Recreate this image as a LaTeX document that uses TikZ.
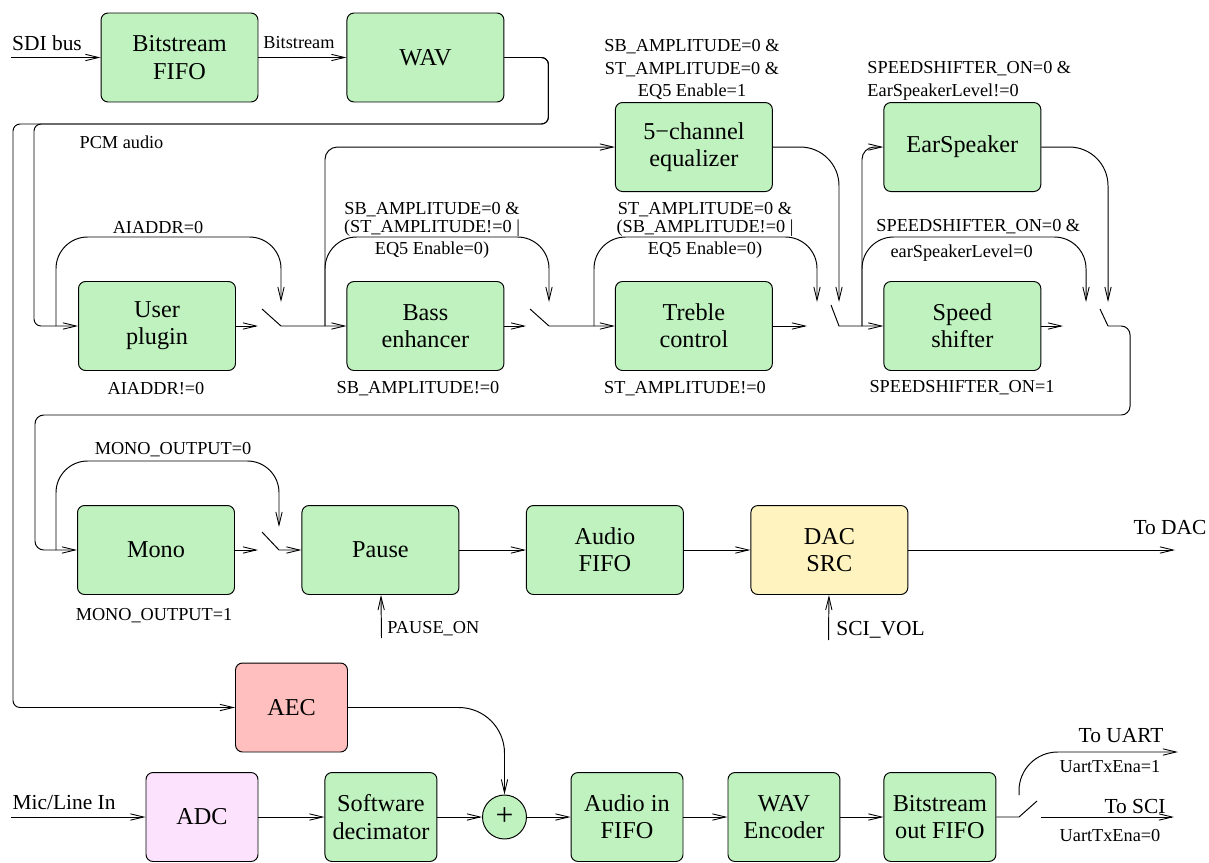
\documentclass[tikz,border=0pt]{standalone}
\usepackage{fontspec}
\setmainfont{Liberation Serif}
\usetikzlibrary{arrows.meta, shapes}

\definecolor{boxgreen}{HTML}{BFF2BF}
\definecolor{dacyellow}{HTML}{FFF4BF}
\definecolor{aecred}{HTML}{FFBFBF}
\definecolor{adcpink}{HTML}{FDE2FD}

\newcommand{\blkfont}{\fontsize{13.8}{15.5}\selectfont}
\newcommand{\cndfont}{\fontsize{10.4}{12.7}\selectfont}
\newcommand{\sqzfont}{\fontsize{10.4}{10.2}\selectfont}
\newcommand{\iofont}{\fontsize{12.2}{14}\selectfont}

\tikzset{
    blk/.style={draw, rounded corners=4pt, fill=boxgreen, minimum width=3.14cm, minimum height=1.78cm, inner sep=1pt, align=center, font=\blkfont},
    nblk/.style={blk, minimum width=2.24cm},
    cnd/.style={font=\cndfont, align=center, inner sep=0pt},
    iolbl/.style={font=\iofont, inner sep=0pt}
}

\begin{document}
\begin{tikzpicture}[x=0.02cm, y=-0.02cm, line width=0.55pt, >={Straight Barb[length=7.5pt,width=3.6pt,line width=0.5pt]}]
            \useasboundingbox (0,0) rectangle (1209,862);

            \node (bfifo) [blk] at (179.5,57.5) {Bitstream\\FIFO};
            \node (wav) [blk, node distance=4.92cm, right of=bfifo] {WAV};
            \node (plugin) [blk] at (157,326) {User\\plugin};
            \node (bass) [blk, node distance=5.37cm, right of=plugin] {Bass\\enhancer};
            \node (treble) [blk, node distance=5.37cm, right of=bass] {Treble\\control};
            \node (speed) [blk, node distance=5.37cm, right of=treble] {Speed\\shifter};
            \node (eq) [blk, node distance=3.58cm, above of=treble] {5−channel\\equalizer};
            \node (ear) [blk, node distance=3.58cm, above of=speed] {EarSpeaker};
            \node (mono) [blk] at (156,550) {Mono};
            \node (pause) [blk, node distance=4.49cm, right of=mono] {Pause};
            \node (afifo) [blk, node distance=4.49cm, right of=pause] {Audio\\FIFO};
            \node (dac) [blk, fill=dacyellow, node distance=4.49cm, right of=afifo] {DAC\\SRC};
            \node (aec) [nblk, fill=aecred] at (291.5,707.5) {AEC};
            \node (adc) [nblk, fill=adcpink] at (202,817) {ADC};
            \node (dec) [nblk, node distance=3.58cm, right of=adc] {Software\\decimator};
            \node (sum) [circle, draw, fill=boxgreen, minimum size=0.88cm, inner sep=0pt, font=\fontsize{18}{18}\selectfont] at (504.5,817) {+};
            \node (infifo) [nblk] at (627,817) {Audio in\\FIFO};
            \node (wavenc) [nblk, node distance=3.14cm, right of=infifo] {WAV\\Encoder};
            \node (bofifo) [nblk, node distance=3.12cm, right of=wavenc] {Bitstream\\out FIFO};

            \node (sdilbl) [iolbl] at (47,43) {SDI bus};
            \node (bslbl) [cnd] at (299,43) {Bitstream};
            \node (pcmlbl) [cnd] at (121.5,142) {PCM audio};
            \node (eqcnd) [cnd] at (692,69.5) {SB\_AMPLITUDE=0 \&\\ST\_AMPLITUDE=0 \&\\EQ5 Enable=1};
            \node (earcnd) [cnd, align=left, anchor=west] at (867,81) {SPEEDSHIFTER\_ON=0 \&\\EarSpeakerLevel!=0};
            \node (aicnd) [cnd] at (158,228) {AIADDR=0};
            \node (sbcnd) [cnd, font=\sqzfont] at (432,230) {SB\_AMPLITUDE=0 \&\\(ST\_AMPLITUDE!=0 |\\[2.3pt]EQ5 Enable=0)};
            \node (stcnd) [cnd, font=\sqzfont] at (705,230) {ST\_AMPLITUDE=0 \&\\(SB\_AMPLITUDE!=0 |\\[2.3pt]EQ5 Enable=0)};
            \node (spcnd) [cnd, align=left, anchor=west] at (876,240) {SPEEDSHIFTER\_ON=0 \&\\[2pt]\hspace{8pt}earSpeakerLevel=0};
            \node (aineg) [cnd] at (156,389) {AIADDR!=0};
            \node (sbneg) [cnd] at (418,389) {SB\_AMPLITUDE!=0};
            \node (stneg) [cnd] at (685,389) {ST\_AMPLITUDE!=0};
            \node (spneg) [cnd] at (962,388) {SPEEDSHIFTER\_ON=1};
            \node (monocnd) [cnd] at (173,450) {MONO\_OUTPUT=0};
            \node (mononeg) [cnd] at (154,616) {MONO\_OUTPUT=1};
            \node (pauselbl) [cnd, anchor=west] at (387,629) {PAUSE\_ON};
            \node (scilbl) [iolbl, anchor=west] at (836,630) {SCI\_VOL};
            \node (todaclbl) [iolbl] at (1170,527) {To DAC};
            \node (miclbl) [iolbl] at (64,802) {Mic/Line In};
            \node (uartlbl) [iolbl] at (1121,736) {To UART};
            \node (uart1) [cnd] at (1110,767) {UartTxEna=1};
            \node (scilbl2) [iolbl] at (1135,806) {To SCI};
            \node (uart0) [cnd] at (1110,835) {UartTxEna=0};

            \coordinate (sdi) at (11,57.5);
            \coordinate (j1) at (56,326);
            \coordinate (sw1in) at (258,326);
            \coordinate (sw1a) at (262,309);
            \coordinate (sw1b) at (281,326);
            \coordinate (sw1top) at (281,302);
            \coordinate (j2) at (325,326);
            \coordinate (sw2in) at (526,326);
            \coordinate (sw2a) at (530,309);
            \coordinate (sw2b) at (549,326);
            \coordinate (sw2top) at (549,302);
            \coordinate (j3) at (594,326);
            \coordinate (sw3in) at (807,326);
            \coordinate (sw3a) at (831,305);
            \coordinate (sw3b) at (839,326);
            \coordinate (sw3top) at (839,302);
            \coordinate (sw3alt) at (817,302);
            \coordinate (j4) at (862,326);
            \coordinate (sw4in) at (1063,326);
            \coordinate (sw4a) at (1100,309);
            \coordinate (sw4b) at (1108,326);
            \coordinate (sw4top) at (1108,302);
            \coordinate (sw4alt) at (1086,302);
            \coordinate (j5) at (56,550);
            \coordinate (sw5in) at (258,550);
            \coordinate (sw5a) at (262,532);
            \coordinate (sw5b) at (279,550);
            \coordinate (sw5top) at (279,527);
            \coordinate (todac) at (1175,550);
            \coordinate (pauseon) at (381.5,638);
            \coordinate (scivol) at (828.5,640);
            \coordinate (mic) at (11,817);
            \coordinate (sw6a) at (1037,801);
            \coordinate (sw6b) at (1019,817);
            \coordinate (uartst) at (1019,795);
            \coordinate (touart) at (1178,752);
            \coordinate (scist) at (1041,817);
            \coordinate (tosci) at (1174,817);

            \path[->]
                (sdi) edge (bfifo)
                (bfifo) edge (wav)
                (plugin) edge (sw1in)
                (bass) edge (sw2in)
                (treble) edge (sw3in)
                (speed) edge (sw4in)
                (mono) edge (sw5in)
                (pause) edge (afifo)
                (afifo) edge (dac)
                (dac) edge (todac)
                (pauseon) edge (pause)
                (scivol) edge (dac)
                (mic) edge (adc)
                (adc) edge (dec)
                (dec) edge (sum)
                (sum) edge (infifo)
                (infifo) edge (wavenc)
                (wavenc) edge (bofifo)
                (scist) edge (tosci);

            \draw[->, rounded corners=4pt] (wav.east) -- ++(44,0) |- (34,124) |- (plugin.west);
            \draw[->, rounded corners=4pt] (wav.east) -- ++(44,0) |- (13,124) |- (aec.west);
            \draw[->, rounded corners=18pt] (j1) |- (281,237) -- (sw1top);
            \draw[->] (sw1a) -- (sw1b) -- (bass);
            \draw[->, rounded corners=7pt] (j2) |- (eq);
            \draw[->, rounded corners=18pt] (j2) |- (549,237) -- (sw2top);
            \draw[->] (sw2a) -- (sw2b) -- (treble);
            \draw[->, rounded corners=18pt] (j3) |- (817,237) -- (sw3alt);
            \draw[->, rounded corners=22pt] (eq) -| (sw3top);
            \draw[->] (sw3a) -- (sw3b) -- (speed);
            \draw[->, rounded corners=7pt] (j4) |- (ear);
            \draw[->, rounded corners=18pt] (j4) |- (1086,237) -- (sw4alt);
            \draw[->, rounded corners=22pt] (ear) -| (sw4top);
            \draw (sw4a) -- (sw4b);
            \draw[->, rounded corners=5pt] (sw4b) -| (1130,415) -| (35,550) -- (mono);
            \draw[->, rounded corners=18pt] (j5) |- (279,461) -- (sw5top);
            \draw[->] (sw5a) -- (sw5b) -- (pause);
            \draw[->, rounded corners=26pt] (aec) -| (sum);
            \draw (bofifo) -- (sw6b) -- (sw6a);
            \draw[->, rounded corners=22pt] (uartst) |- (touart);
        \end{tikzpicture}
\end{document}
